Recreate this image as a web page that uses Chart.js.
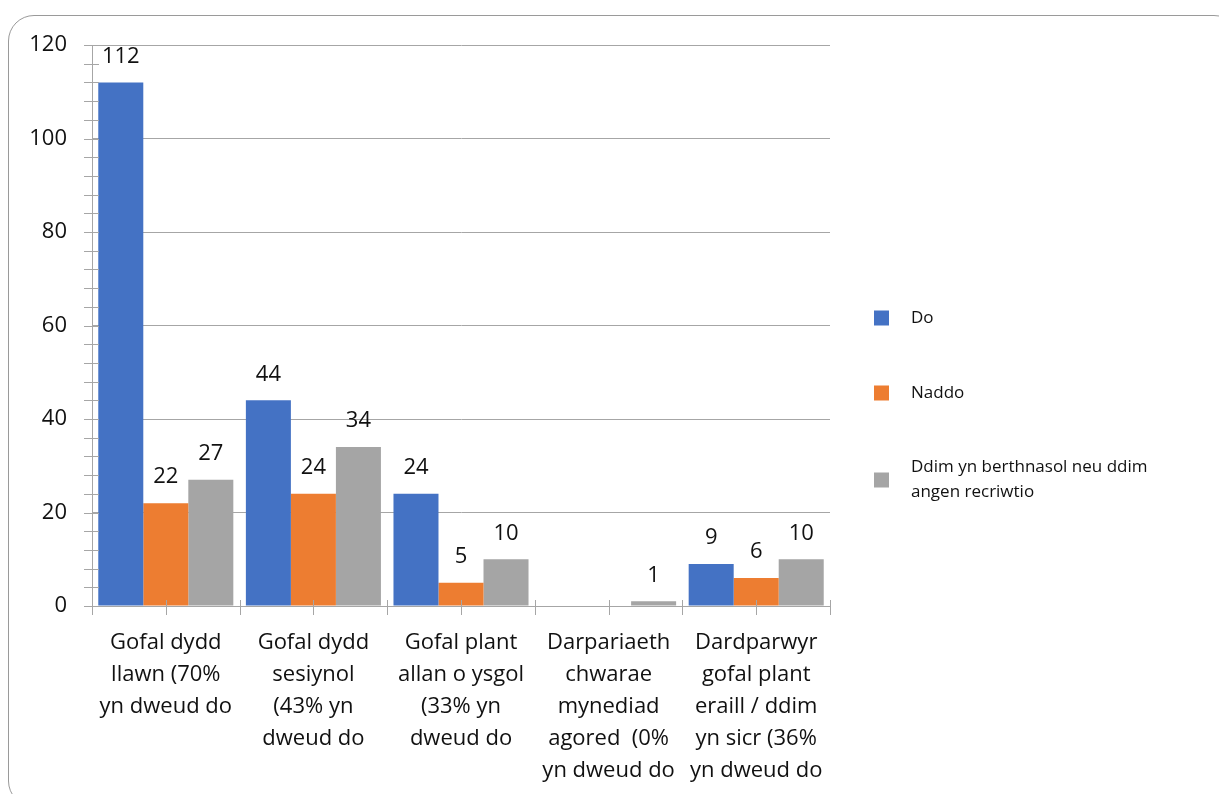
<!DOCTYPE html>
<html>
<head>
<meta charset="utf-8">
<script src="https://cdn.jsdelivr.net/npm/chart.js@4/dist/chart.umd.min.js"></script>
<style>
  html, body { margin: 0; padding: 0; background: #fff; overflow: hidden; }
  #frame {
    position: absolute; left: 8px; top: 15px; width: 1232px; height: 792px;
    border: 1.5px solid #9a9a9a; border-radius: 26px; box-sizing: border-box;
  }
  #chart { position: absolute; left: 0; top: 0; }
</style>
</head>
<body>
<div id="frame"></div>
<canvas id="chart" width="1219" height="794"></canvas>
<script>
const categories = [
    ["Gofal dydd", "llawn (70%", "yn dweud do"],
    ["Gofal dydd", "sesiynol", "(43% yn", "dweud do"],
    ["Gofal plant", "allan o ysgol", "(33% yn", "dweud do"],
    ["Darpariaeth", "chwarae", "mynediad", "agored  (0%", "yn dweud do"],
    ["Dardparwyr", "gofal plant", "eraill / ddim", "yn sicr (36%", "yn dweud do"],
];
const seriesNames = ["Do", "Naddo", "Ddim yn berthnasol neu ddim angen recriwtio"];
const doValues    = [112, 44, 24, 0, 9];
const naddoValues = [22, 24, 5, 0, 6];
const ddimValues  = [27, 34, 10, 1, 10];
const yMax = 120, yMajor = 20, yMinor = 4;

const COLORS = ['#4472C4', '#ED7D31', '#A5A5A5'];
const GRID = '#a6a6a6';
const FONT = '"Open Sans", Lato, sans-serif';
const TEXT = '#111';

// value labels above bars, skip zeros
const valueLabels = {
    id: 'valueLabels',
    afterDatasetsDraw(chart) {
        const ctx = chart.ctx;
        ctx.save();
        ctx.font = `22px ${FONT}`;
        ctx.fillStyle = TEXT;
        ctx.textAlign = 'center';
        ctx.textBaseline = 'middle';
        chart.data.datasets.forEach((ds, i) => {
            chart.getDatasetMeta(i).data.forEach((bar, j) => {
                if (!ds.data[j]) return;
                ctx.fillText(ds.data[j], bar.x, bar.y - 26);
            });
        });
        ctx.restore();
    }
};

// tick marks crossing the axes
const axisTicks = {
    id: 'axisTicks',
    afterDraw(chart) {
        const { ctx, scales: { x, y } } = chart;
        ctx.save();
        ctx.strokeStyle = GRID;
        ctx.lineWidth = 1;
        ctx.beginPath();
        for (let v = 0; v <= yMax; v += yMinor) {
            const py = Math.round(y.getPixelForValue(v)) + 0.5;
            ctx.moveTo(x.left - 8, py);
            ctx.lineTo(x.left + 7, py);
        }
        const half = (x.right - x.left) / categories.length / 2;
        for (let k = 0; k <= categories.length * 2; k++) {
            const px = Math.round(x.left + k * half) + 0.5;
            ctx.moveTo(px, y.bottom - 6);
            ctx.lineTo(px, y.bottom + 9);
        }
        ctx.stroke();
        ctx.restore();
    }
};

// legend drawn to the right, with wrapping
const sideLegend = {
    id: 'sideLegend',
    afterDraw(chart) {
        const ctx = chart.ctx;
        const rows = [318, 393, 480];
        ctx.save();
        ctx.font = `17px ${FONT}`;
        ctx.textBaseline = 'middle';
        chart.data.datasets.forEach((ds, i) => {
            const words = ds.label.split(' ');
            const lines = [];
            let line = '';
            words.forEach(w => {
                const t = line ? line + ' ' + w : w;
                if (ctx.measureText(t).width > 262 && line) { lines.push(line); line = w; }
                else line = t;
            });
            lines.push(line);
            const cy = rows[i];
            ctx.fillStyle = ds.backgroundColor;
            ctx.fillRect(874, cy - 7.5, 15, 15);
            ctx.fillStyle = TEXT;
            const lh = 25;
            const top = cy - (lines.length - 1) * lh / 2;
            lines.forEach((l, k) => ctx.fillText(l, 911, top + k * lh));
        });
        ctx.restore();
    }
};

new Chart(document.getElementById('chart'), {
    type: 'bar',
    data: {
        labels: categories,
        datasets: [doValues, naddoValues, ddimValues].map((d, i) => ({
            label: seriesNames[i],
            data: d,
            backgroundColor: COLORS[i],
            borderWidth: 0,
            barPercentage: 1,
            categoryPercentage: 0.915
        }))
    },
    options: {
        responsive: false,
        animation: false,
        layout: { padding: { top: 45, right: 389, left: 0, bottom: 0 } },
        plugins: { legend: { display: false }, tooltip: { enabled: false } },
        scales: {
            x: {
                grid: { display: false },
                border: { display: true, color: GRID, width: 1 },
                ticks: {
                    color: TEXT, font: { family: FONT, size: 22, lineHeight: '32px' },
                    padding: 13, maxRotation: 0, autoSkip: false
                },
                afterFit(s) { s.height = 188; }
            },
            y: {
                min: 0, max: yMax,
                grid: {
                    drawTicks: false,
                    color: c => (c.tick && c.tick.value % yMajor === 0) ? GRID : 'rgba(0,0,0,0)'
                },
                border: { display: true, color: GRID, width: 1 },
                ticks: {
                    stepSize: yMinor, autoSkip: false, padding: 25, color: TEXT,
                    font: { family: FONT, size: 22 },
                    callback: v => v % yMajor === 0 ? v : ''
                },
                afterFit(s) { s.width = 92; }
            }
        }
    },
    plugins: [valueLabels, axisTicks, sideLegend]
});
</script>
</body>
</html>
